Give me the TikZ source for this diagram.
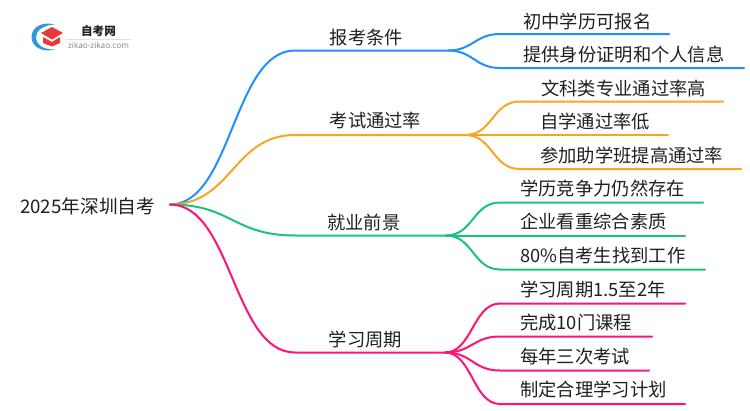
\documentclass[tikz,border=0pt]{standalone}
\usepackage{fontspec}
\setmainfont{Noto Sans CJK SC}
\newfontfamily\logofont{Open Sans}
\definecolor{bluebranch}{HTML}{1E90FF}
\definecolor{orangebranch}{HTML}{F5A623}
\definecolor{greenbranch}{HTML}{19C37D}
\definecolor{pinkbranch}{HTML}{FF1473}
\definecolor{textcol}{HTML}{1F1F1F}
\definecolor{logoblue}{HTML}{2A9BD8}
\definecolor{logored}{HTML}{E5393A}
\tikzset{
	label/.style={font=\fontsize{18.3}{20}\selectfont, text=textcol, inner sep=0pt, anchor=base west},
	wire/.style={line width=2pt, line cap=round},
}

\begin{document}
\begin{tikzpicture}[x=1pt, y=-1pt]
	\useasboundingbox (0,0) rectangle (750,410);

	% Logo.
	\fill[logoblue] (55,24.5) .. controls (41,21) and (31.5,28) .. (31.5,37)
		.. controls (31.5,46) and (41,53) .. (55,49.5)
		.. controls (44,50) and (36,45) .. (36,37)
		.. controls (36,30) and (44,25) .. (55,24.5) -- cycle;
	\fill[logored] (41,33) -- (52,27) -- (63,33) -- (52,39.5) -- cycle;
	\fill[logored] (43,37) -- (52,42) -- (60,37) -- (60,43) -- (52,46.5) -- (43,43) -- cycle;
	\node[inner sep=0pt, font=\fontsize{11.6}{12}\selectfont\bfseries, text=textcol] (logotitle) at (98.5,31) {自考网};
	\node[inner sep=0pt, font=\logofont\fontsize{8.2}{9}\selectfont, text=gray] (logourl) at (98.5,45) {zikao-zikao.com};
	\draw[color=gray!25, line width=0.5pt] (66,39) -- (131,39);

	% Root.
	\node[label, font=\fontsize{18.7}{20}\selectfont] (root) at (20,213) {2025年深圳自考};
	\coordinate (rootout) at (170,204.5);

	% Branch nodes.
	\node[label] (exam) at (329.5,44) {报考条件};
	\node[label] (rate) at (329.5,127) {考试通过率};
	\node[label] (job) at (327,229) {就业前景};
	\node[label] (cycle) at (328.5,346) {学习周期};

	% Leaf nodes.
	\node[label] (exama) at (523,28) {初中学历可报名};
	\node[label] (examb) at (523,61) {提供身份证明和个人信息};
	\node[label] (ratea) at (541,95) {文科类专业通过率高};
	\node[label] (rateb) at (540,128) {自学通过率低};
	\node[label] (ratec) at (540,162) {参加助学班提高通过率};
	\node[label] (joba) at (520,195) {学历竞争力仍然存在};
	\node[label] (jobb) at (520,228) {企业看重综合素质};
	\node[label] (jobc) at (520,262) {80\%自考生找到工作};
	\node[label] (cyclea) at (520,296) {学习周期1.5至2年};
	\node[label] (cycleb) at (520,329) {完成10门课程};
	\node[label] (cyclec) at (520,363) {每年三次考试};
	\node[label] (cycled) at (520,396) {制定合理学习计划};

	% Blue part.
	\coordinate (examin) at (295,50.5);
	\coordinate (examout) at (448,50.5);
	\coordinate (exama1) at (500,34); \coordinate (exama2) at (669,34);
	\coordinate (examb1) at (500,68); \coordinate (examb2) at (744,68);
	\draw[wire, bluebranch] (rootout) .. controls +(62,0) and +(-62,0) .. (examin) -- (examout);
	\draw[wire, bluebranch] (examout) .. controls +(25,0) and +(-25,0) .. (exama1) -- (exama2);
	\draw[wire, bluebranch] (examout) .. controls +(25,0) and +(-25,0) .. (examb1) -- (examb2);

	% Orange part.
	\coordinate (ratein) at (295,135);
	\coordinate (rateout) at (465,135);
	\coordinate (ratea1) at (520,101.5); \coordinate (ratea2) at (723,101.5);
	\coordinate (rateb2) at (668,135);
	\coordinate (ratec1) at (520,169); \coordinate (ratec2) at (741,169);
	\draw[wire, orangebranch] (rootout) .. controls +(62,0) and +(-62,0) .. (ratein) -- (rateout);
	\draw[wire, orangebranch] (rateout) .. controls +(28,0) and +(-28,0) .. (ratea1) -- (ratea2);
	\draw[wire, orangebranch] (rateout) -- (rateb2);
	\draw[wire, orangebranch] (rateout) .. controls +(28,0) and +(-28,0) .. (ratec1) -- (ratec2);

	% Green part.
	\coordinate (jobin) at (295,235.5);
	\coordinate (jobout) at (446,235.5);
	\coordinate (joba1) at (500,202.5); \coordinate (joba2) at (703,202.5);
	\coordinate (jobb2) at (685,235.5);
	\coordinate (jobc1) at (500,269.5); \coordinate (jobc2) at (705,269.5);
	\draw[wire, greenbranch] (rootout) .. controls +(62,0) and +(-62,0) .. (jobin) -- (jobout);
	\draw[wire, greenbranch] (jobout) .. controls +(27,0) and +(-27,0) .. (joba1) -- (joba2);
	\draw[wire, greenbranch] (jobout) -- (jobb2);
	\draw[wire, greenbranch] (jobout) .. controls +(27,0) and +(-27,0) .. (jobc1) -- (jobc2);

	% Pink part.
	\coordinate (cyclein) at (295,352.5);
	\coordinate (cycleout) at (445,352.5);
	\coordinate (cyclea1) at (500,303.5); \coordinate (cyclea2) at (685,303.5);
	\coordinate (cycleb1) at (500,336.5); \coordinate (cycleb2) at (652,336.5);
	\coordinate (cyclec1) at (500,370.5); \coordinate (cyclec2) at (649,370.5);
	\coordinate (cycled1) at (500,404); \coordinate (cycled2) at (685,404);
	\draw[wire, pinkbranch] (rootout) .. controls +(62,0) and +(-62,0) .. (cyclein) -- (cycleout);
	\draw[wire, pinkbranch] (cycleout) .. controls +(27,0) and +(-27,0) .. (cyclea1) -- (cyclea2);
	\draw[wire, pinkbranch] (cycleout) .. controls +(27,0) and +(-27,0) .. (cycleb1) -- (cycleb2);
	\draw[wire, pinkbranch] (cycleout) .. controls +(27,0) and +(-27,0) .. (cyclec1) -- (cyclec2);
	\draw[wire, pinkbranch] (cycleout) .. controls +(27,0) and +(-27,0) .. (cycled1) -- (cycled2);
\end{tikzpicture}
\end{document}
